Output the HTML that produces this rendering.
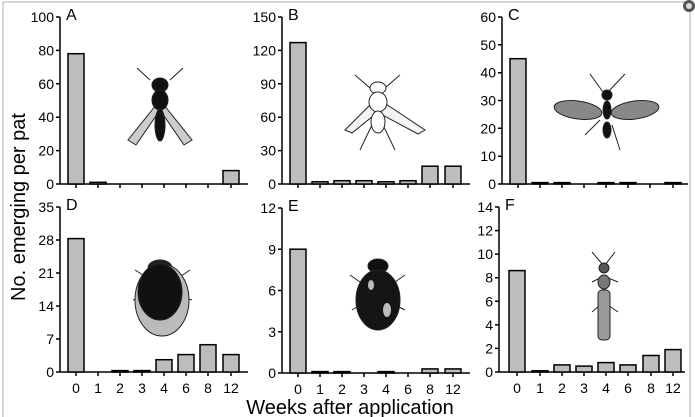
<!DOCTYPE html>
<html><head><style>
html,body{margin:0;padding:0;background:#fff}
svg{display:block}
text{font-family:"Liberation Sans",Arial,sans-serif;fill:#000}
.t{font-size:14px;text-anchor:end}
.x{font-size:14px;text-anchor:middle}
.l{font-size:16px}
.b{fill:#bdbdbd;stroke:#000;stroke-width:1.5}
.a{stroke:#000;stroke-width:1.5;fill:none}
</style></head><body>
<svg width="695" height="417" viewBox="0 0 695 417" xmlns="http://www.w3.org/2000/svg">
<rect x="3" y="2" width="687" height="420" fill="none" stroke="#c8c8c8" stroke-width="1.5"/>
<circle cx="689" cy="6" r="6" fill="#555"/><circle cx="689" cy="6" r="3" fill="#ddd"/>

<!-- A -->
<g transform="translate(60,184)">
<path class="a" d="M0,-167V0H188M-4,0H0M-4,-33.4H0M-4,-66.8H0M-4,-100.2H0M-4,-133.6H0M-4,-167H0M16,0v4M38,0v4M60,0v4M82,0v4M104,0v4M126,0v4M148,0v4M171,0v4"/>
<text class="t" x="-6" y="5">0</text><text class="t" x="-6" y="-28.4">20</text><text class="t" x="-6" y="-61.8">40</text><text class="t" x="-6" y="-95.2">60</text><text class="t" x="-6" y="-128.6">80</text><text class="t" x="-6" y="-162">100</text>
<text class="l" x="6" y="-164">A</text>
<rect class="b" x="8" y="-130.3" width="16" height="130.3"/><rect class="b" x="30" y="-1.7" width="16" height="1.7"/><rect class="b" x="163" y="-13.4" width="16" height="13.4"/>
</g>
<!-- B -->
<g transform="translate(282,184)">
<path class="a" d="M0,-167V0H188M-4,0H0M-4,-33.4H0M-4,-66.8H0M-4,-100.2H0M-4,-133.6H0M-4,-167H0M16,0v4M38,0v4M60,0v4M82,0v4M104,0v4M126,0v4M148,0v4M171,0v4"/>
<text class="t" x="-6" y="5">0</text><text class="t" x="-6" y="-28.4">30</text><text class="t" x="-6" y="-61.8">60</text><text class="t" x="-6" y="-95.2">90</text><text class="t" x="-6" y="-128.6">120</text><text class="t" x="-6" y="-162">150</text>
<text class="l" x="6" y="-164">B</text>
<rect class="b" x="8" y="-141.4" width="16" height="141.4"/><rect class="b" x="30" y="-2.2" width="16" height="2.2"/><rect class="b" x="52" y="-3.3" width="16" height="3.3"/><rect class="b" x="74" y="-3.3" width="16" height="3.3"/><rect class="b" x="96" y="-2.2" width="16" height="2.2"/><rect class="b" x="118" y="-3.3" width="16" height="3.3"/><rect class="b" x="140" y="-17.8" width="16" height="17.8"/><rect class="b" x="163" y="-17.8" width="16" height="17.8"/>
</g>
<!-- C -->
<g transform="translate(502,184)">
<path class="a" d="M0,-167V0H186M-4,0H0M-4,-27.8H0M-4,-55.7H0M-4,-83.5H0M-4,-111.3H0M-4,-139.2H0M-4,-167H0M16,0v4M38,0v4M60,0v4M82,0v4M104,0v4M126,0v4M148,0v4M171,0v4"/>
<text class="t" x="-6" y="5">0</text><text class="t" x="-6" y="-22.8">10</text><text class="t" x="-6" y="-50.7">20</text><text class="t" x="-6" y="-78.5">30</text><text class="t" x="-6" y="-106.3">40</text><text class="t" x="-6" y="-134.2">50</text><text class="t" x="-6" y="-162">60</text>
<text class="l" x="6" y="-164">C</text>
<rect class="b" x="8" y="-125.3" width="16" height="125.3"/><rect class="b" x="30" y="-1.4" width="16" height="1.4"/><rect class="b" x="52" y="-1.4" width="16" height="1.4"/><rect class="b" x="96" y="-1.4" width="16" height="1.4"/><rect class="b" x="118" y="-1.4" width="16" height="1.4"/><rect class="b" x="163" y="-1.4" width="16" height="1.4"/>
</g>
<!-- D -->
<g transform="translate(60,372)">
<path class="a" d="M0,-165V0H188M-4,0H0M-4,-33H0M-4,-66H0M-4,-99H0M-4,-132H0M-4,-165H0M16,0v4M38,0v4M60,0v4M82,0v4M104,0v4M126,0v4M148,0v4M171,0v4"/>
<text class="t" x="-6" y="5">0</text><text class="t" x="-6" y="-28">7</text><text class="t" x="-6" y="-61">14</text><text class="t" x="-6" y="-94">21</text><text class="t" x="-6" y="-127">28</text><text class="t" x="-6" y="-160">35</text>
<text class="l" x="6" y="-162">D</text>
<rect class="b" x="8" y="-133.4" width="16" height="133.4"/><rect class="b" x="52" y="-1.4" width="16" height="1.4"/><rect class="b" x="74" y="-1.4" width="16" height="1.4"/><rect class="b" x="96" y="-12.3" width="16" height="12.3"/><rect class="b" x="118" y="-17.4" width="16" height="17.4"/><rect class="b" x="140" y="-27.3" width="16" height="27.3"/><rect class="b" x="163" y="-17.4" width="16" height="17.4"/>
<g transform="translate(0,21)"><text class="x" x="16">0</text><text class="x" x="38">1</text><text class="x" x="60">2</text><text class="x" x="82">3</text><text class="x" x="104">4</text><text class="x" x="126">6</text><text class="x" x="148">8</text><text class="x" x="171">12</text></g>
</g>
<!-- E -->
<g transform="translate(282,373)">
<path class="a" d="M0,-165V0H188M-4,0H0M-4,-41.25H0M-4,-82.5H0M-4,-123.75H0M-4,-165H0M16,0v4M38,0v4M60,0v4M82,0v4M104,0v4M126,0v4M148,0v4M171,0v4"/>
<text class="t" x="-6" y="5">0</text><text class="t" x="-6" y="-36.25">3</text><text class="t" x="-6" y="-77.5">6</text><text class="t" x="-6" y="-118.75">9</text><text class="t" x="-6" y="-160">12</text>
<text class="l" x="6" y="-162">E</text>
<rect class="b" x="8" y="-123.8" width="16" height="123.8"/><rect class="b" x="30" y="-1.4" width="16" height="1.4"/><rect class="b" x="52" y="-1.4" width="16" height="1.4"/><rect class="b" x="96" y="-1.4" width="16" height="1.4"/><rect class="b" x="140" y="-4.1" width="16" height="4.1"/><rect class="b" x="163" y="-4.1" width="16" height="4.1"/>
<g transform="translate(0,21)"><text class="x" x="16">0</text><text class="x" x="38">1</text><text class="x" x="60">2</text><text class="x" x="82">3</text><text class="x" x="104">4</text><text class="x" x="126">6</text><text class="x" x="148">8</text><text class="x" x="171">12</text></g>
</g>
<!-- F -->
<g transform="translate(499,372)">
<path class="a" d="M0,-165V0H186M-4,0H0M-4,-23.57H0M-4,-47.14H0M-4,-70.7H0M-4,-94.3H0M-4,-117.9H0M-4,-141.4H0M-4,-165H0M18,0v4M41,0v4M63,0v4M85,0v4M107,0v4M129,0v4M152,0v4M174,0v4"/>
<text class="t" x="-6" y="5">0</text><text class="t" x="-6" y="-18.57">2</text><text class="t" x="-6" y="-42.14">4</text><text class="t" x="-6" y="-65.7">6</text><text class="t" x="-6" y="-89.3">8</text><text class="t" x="-6" y="-112.9">10</text><text class="t" x="-6" y="-136.4">12</text><text class="t" x="-6" y="-160">14</text>
<text class="l" x="6" y="-162">F</text>
<rect class="b" x="10" y="-101.4" width="16" height="101.4"/><rect class="b" x="33" y="-1.2" width="16" height="1.2"/><rect class="b" x="55" y="-7.1" width="16" height="7.1"/><rect class="b" x="77" y="-5.9" width="16" height="5.9"/><rect class="b" x="99" y="-9.4" width="16" height="9.4"/><rect class="b" x="121" y="-7.1" width="16" height="7.1"/><rect class="b" x="144" y="-16.5" width="16" height="16.5"/><rect class="b" x="166" y="-22.4" width="16" height="22.4"/>
<g transform="translate(0,21)"><text class="x" x="18">0</text><text class="x" x="41">1</text><text class="x" x="63">2</text><text class="x" x="85">3</text><text class="x" x="107">4</text><text class="x" x="129">6</text><text class="x" x="152">8</text><text class="x" x="174">12</text></g>
</g>

<!-- insects -->
<g stroke="#222" stroke-width="1" fill="none">
 <!-- fly A -->
 <path d="M137,68L150,80M183,68L170,80M138,135L152,120M182,135L168,120"/>
 <path d="M160,100L128,140L136,145L160,110ZM160,100L192,140L184,145L160,110Z" fill="#ccc"/>
 <ellipse cx="160" cy="85" rx="8" ry="7" fill="#111"/><ellipse cx="160" cy="100" rx="8" ry="10" fill="#111"/><ellipse cx="160" cy="125" rx="5" ry="16" fill="#111"/>
 <!-- fly B -->
 <path d="M355,75L370,88M400,75L385,88M360,150L372,125M395,150L383,125"/>
 <path d="M375,100L345,130L352,133L378,112ZM380,100L425,130L418,134L377,112Z" fill="#f4f4f4"/>
 <ellipse cx="378" cy="88" rx="8" ry="6" fill="#fff"/><ellipse cx="378" cy="102" rx="9" ry="10" fill="#fff"/><ellipse cx="378" cy="122" rx="7" ry="11" fill="#fff"/>
 <!-- wasp C -->
 <path d="M590,74L603,92M625,74L608,92M585,135L600,120M620,150L612,125"/>
 <ellipse cx="578" cy="110" rx="24" ry="9" fill="#888" transform="rotate(8 578 110)"/><ellipse cx="635" cy="110" rx="24" ry="9" fill="#888" transform="rotate(-8 635 110)"/>
 <ellipse cx="607" cy="95" rx="5" ry="5" fill="#111"/><ellipse cx="607" cy="110" rx="4" ry="9" fill="#111"/><ellipse cx="607" cy="130" rx="4" ry="8" fill="#111"/>
 <!-- beetle D -->
 <path d="M135,270L148,278M190,270L178,278M133,300L145,296M192,300L180,296"/>
 <ellipse cx="160" cy="268" rx="12" ry="8" fill="#222"/>
 <ellipse cx="162" cy="300" rx="27" ry="36" fill="#bbb"/>
 <ellipse cx="160" cy="292" rx="22" ry="28" fill="#111"/>
 <!-- beetle E -->
 <path d="M350,275L360,282M405,275L395,282M352,310L360,305M405,310L395,305"/>
 <ellipse cx="378" cy="266" rx="10" ry="7" fill="#111"/>
 <ellipse cx="378" cy="300" rx="22" ry="30" fill="#151515"/>
 <ellipse cx="371" cy="285" rx="3" ry="5" fill="#bbb" stroke="none"/><ellipse cx="387" cy="310" rx="4" ry="7" fill="#bbb" stroke="none"/>
 <!-- rove F -->
 <path d="M592,252L603,265M615,252L605,265M592,282L600,278M618,282L608,278M592,312L600,305M618,312L608,305"/>
 <ellipse cx="604" cy="268" rx="5" ry="5" fill="#555"/><ellipse cx="604" cy="282" rx="6" ry="7" fill="#777"/>
 <rect x="598" y="290" width="12" height="50" rx="4" fill="#999"/>
</g>

<text x="0" y="0" transform="translate(25,207) rotate(-90)" text-anchor="middle" style="font-size:20px">No. emerging per pat</text>
<text x="350" y="414" text-anchor="middle" style="font-size:20px">Weeks after application</text>
</svg>
</body></html>
